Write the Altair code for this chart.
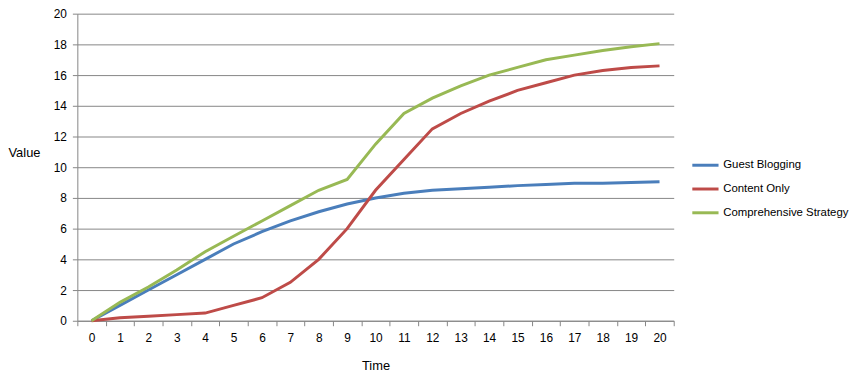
import altair as alt
import pandas as pd

time = list(range(21))
guest = [0, 1, 2, 3, 4, 5, 5.8, 6.5, 7.1, 7.6, 8, 8.3, 8.5, 8.6, 8.7, 8.8, 8.88, 8.95, 8.95, 9.0, 9.05]
content = [0, 0.2, 0.3, 0.4, 0.5, 1, 1.5, 2.5, 4, 6, 8.5, 10.5, 12.5, 13.5, 14.3, 15, 15.5, 16, 16.3, 16.5, 16.6]
comprehensive = [0, 1.2, 2.2, 3.3, 4.5, 5.5, 6.5, 7.5, 8.5, 9.2, 11.5, 13.5, 14.5, 15.3, 16, 16.5, 17, 17.3, 17.6, 17.85, 18.05]

series = ["Guest Blogging", "Content Only", "Comprehensive Strategy"]
colors = ["#4A7EBB", "#BE4B48", "#98B954"]

rows = []
for name, vals in zip(series, [guest, content, comprehensive]):
    for t, v in zip(time, vals):
        rows.append({"Time": t, "Value": v, "Series": name})
df = pd.DataFrame(rows)

FONT = "Liberation Sans"

chart = alt.Chart(df).mark_line(strokeWidth=3).encode(
    x=alt.X("Time:O", title="Time",
            scale=alt.Scale(type="band", paddingInner=0, paddingOuter=0),
            axis=alt.Axis(labelAngle=0, tickBand="extent", grid=False,
                          tickSize=5, tickColor="#868686", domainColor="#868686",
                          labelPadding=7, titlePadding=16,
                          labelFont=FONT, labelFontSize=12, labelColor="#000000",
                          titleFont=FONT, titleFontSize=13, titleFontWeight="normal", titleColor="#000000")),
    y=alt.Y("Value:Q", title="Value",
            scale=alt.Scale(domain=[0, 20], nice=False),
            axis=alt.Axis(values=list(range(0, 21, 2)), grid=True, gridColor="#868686",
                          tickSize=5, tickColor="#868686", domainColor="#868686",
                          labelPadding=6,
                          labelFont=FONT, labelFontSize=12, labelColor="#000000",
                          titleAngle=0, titleX=-70, titleY=140, titleAlign="left", titleBaseline="middle",
                          titleFont=FONT, titleFontSize=13, titleFontWeight="normal", titleColor="#000000")),
    color=alt.Color("Series:N", sort=series,
                    scale=alt.Scale(domain=series, range=colors),
                    legend=alt.Legend(title=None, orient="none", legendX=619, legendY=138,
                                      symbolType="stroke", symbolStrokeWidth=3, symbolSize=700,
                                      rowPadding=3, labelOffset=3, labelLimit=200,
                                      labelFont=FONT, labelFontSize=11.5, labelColor="#000000")),
).properties(
    width=602, height=310,
    autosize=alt.AutoSizeParams(type="none"),
    padding={"left": 70, "top": 4, "right": 184, "bottom": 50},
).configure_view(stroke=None)

chart.save("out.html", embed_options={"renderer": "svg", "actions": False})
